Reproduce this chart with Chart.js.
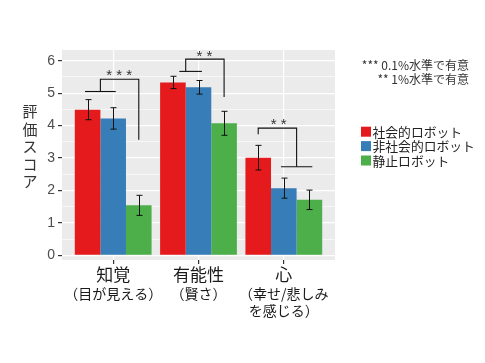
<!DOCTYPE html>
<html><head><meta charset="utf-8">
<script src="https://cdn.jsdelivr.net/npm/chart.js@4/dist/chart.umd.min.js"></script>
<style>html,body{margin:0;padding:0;background:#fff}</style>
</head><body>
<canvas id="c" width="485" height="363"></canvas>
<script>
const categories = ['知覚', '有能性', '心'];
const subLabels = [['（目が見える）'], ['（賢さ）'], ['（幸せ/悲しみ', 'を感じる）']];
const seriesNames = ['社会的ロボット', '非社会的ロボット', '静止ロボット'];
const socialMeans = [4.49, 5.33, 3.01];
const socialErrors = [0.31, 0.19, 0.38];
const nonSocialMeans = [4.22, 5.18, 2.07];
const nonSocialErrors = [0.33, 0.21, 0.31];
const staticMeans = [1.54, 4.07, 1.71];
const staticErrors = [0.31, 0.37, 0.30];
const yTicks = [0, 1, 2, 3, 4, 5, 6];
const yTitle = '評価スコア';
const noteLines = ['*** 0.1%水準で有意', '** 1%水準で有意'];
// significance brackets (data units: x = category position, y = score)
const bracketLines = [
  [[0.67, 5.05], [1.03, 5.05]],
  [[0.85, 5.05], [0.85, 5.43], [1.3, 5.43], [1.3, 3.56]],
  [[1.775, 5.67], [2.04, 5.67]],
  [[1.85, 5.67], [1.85, 6.05], [2.3, 6.05], [2.3, 4.88]],
  [[2.7, 3.73], [2.7, 3.92], [3.15, 3.92], [3.15, 2.73]],
  [[2.966, 2.73], [3.334, 2.73]]
];
const bracketLabels = [
  {text: '* * *', x: 1.07, y: 5.62},
  {text: '* *', x: 2.07, y: 6.2},
  {text: '* *', x: 2.94, y: 4.1}
];

const FONT = '"Liberation Sans", "Noto Sans CJK JP", sans-serif';
const JFONT = '"Noto Sans CJK JP", "Liberation Sans", sans-serif';
const colors = ['#E41A1C', '#377EB8', '#4DAF4A'];
const allMeans = [socialMeans, nonSocialMeans, staticMeans];
const allErrors = [socialErrors, nonSocialErrors, staticErrors];
const xPos = categories.map((c, i) => i + 1);

const datasets = allMeans.map((m, k) => ({
  label: seriesNames[k],
  data: m.map((v, i) => ({x: xPos[i], y: v})),
  errors: allErrors[k],
  backgroundColor: colors[k],
  borderWidth: 0,
  categoryPercentage: 0.9,
  barPercentage: 1.0,
  xAxisID: 'x'
}));

const yMinor = yTicks.slice(0, -1).map(v => v + 0.5);

const panelPlugin = {
  id: 'panel',
  beforeDraw(chart) {
    const {ctx, chartArea: a} = chart;
    ctx.save();
    ctx.fillStyle = '#EBEBEB';
    ctx.fillRect(a.left, a.top, a.right - a.left, a.bottom - a.top);
    ctx.restore();
  }
};

const annotPlugin = {
  id: 'annot',
  afterDatasetsDraw(chart) {
    const {ctx} = chart;
    const xs = chart.scales.x, ys = chart.scales.y;
    ctx.save();
    // error bars
    ctx.strokeStyle = '#111';
    ctx.lineWidth = 1;
    chart.data.datasets.forEach((ds, k) => {
      const meta = chart.getDatasetMeta(k);
      meta.data.forEach((bar, i) => {
        const v = ds.data[i].y, e = ds.errors[i];
        const x = Math.round(bar.x) + 0.5;
        const y1 = ys.getPixelForValue(v + e), y2 = ys.getPixelForValue(v - e);
        ctx.beginPath();
        ctx.moveTo(x, y1); ctx.lineTo(x, y2);
        ctx.moveTo(x - 3, y1); ctx.lineTo(x + 3, y1);
        ctx.moveTo(x - 3, y2); ctx.lineTo(x + 3, y2);
        ctx.stroke();
      });
    });
    // brackets
    ctx.strokeStyle = '#111';
    ctx.lineWidth = 1.1;
    bracketLines.forEach(line => {
      ctx.beginPath();
      line.forEach((p, j) => {
        const px = xs.getPixelForValue(p[0]), py = ys.getPixelForValue(p[1]);
        if (j === 0) ctx.moveTo(px, py); else ctx.lineTo(px, py);
      });
      ctx.stroke();
    });
    ctx.fillStyle = '#333';
    ctx.font = '15px ' + FONT;
    ctx.textAlign = 'center';
    ctx.textBaseline = 'middle';
    bracketLabels.forEach(l => {
      ctx.fillText(l.text, xs.getPixelForValue(l.x), ys.getPixelForValue(l.y) + 3);
    });
    ctx.restore();
  },
  afterDraw(chart) {
    const {ctx, chartArea: a} = chart;
    ctx.save();
    // y title, stacked upright characters
    ctx.fillStyle = '#333';
    ctx.font = '15px ' + JFONT;
    ctx.textAlign = 'center';
    ctx.textBaseline = 'middle';
    const chars = Array.from(yTitle);
    const step = 17.5;
    const cy = a.top + 96.7;
    chars.forEach((ch, i) => {
      ctx.fillText(ch, 30, cy + (i - (chars.length - 1) / 2) * step);
    });
    // note
    ctx.font = '12px ' + JFONT;
    ctx.textAlign = 'right';
    ctx.fillStyle = '#333';
    ctx.fillText(noteLines[0], 469, 65.7);
    ctx.fillText(noteLines[1], 469, 79.3);
    // legend
    ctx.textAlign = 'left';
    ctx.font = '12.8px ' + JFONT;
    chart.data.datasets.forEach((ds, k) => {
      const y = 131.7 + k * 14.4;
      ctx.fillStyle = ds.backgroundColor;
      ctx.fillRect(361, y - 5, 10, 10);
      ctx.fillStyle = '#222';
      ctx.fillText(ds.label, 372.5, y + 0.5);
    });
    ctx.restore();
  }
};

new Chart(document.getElementById('c'), {
  type: 'bar',
  data: {datasets},
  plugins: [panelPlugin, annotPlugin],
  options: {
    responsive: false,
    animation: false,
    layout: {padding: {left: 0, top: 50, right: 150, bottom: 20}},
    plugins: {legend: {display: false}, tooltip: {enabled: false}},
    scales: {
      x: {
        type: 'linear', min: 0.4, max: 3.6, offset: false, position: 'bottom', weight: 0,
        afterBuildTicks: s => { s.ticks = xPos.map(v => ({value: v})); },
        afterFit: s => { s.height = 23; },
        grid: {color: '#fff', lineWidth: 1.2, offset: false, tickColor: '#333', tickLength: 4},
        border: {display: false},
        ticks: {
          callback: v => categories[Math.round(v) - 1],
          font: {size: 17, family: JFONT}, color: '#1a1a1a', padding: 0,
          maxRotation: 0, autoSkip: false
        }
      },
      x2: {
        type: 'linear', min: 0.4, max: 3.6, offset: false, position: 'bottom', weight: 1,
        afterBuildTicks: s => { s.ticks = xPos.map(v => ({value: v})); },
        afterFit: s => { s.height = 60; },
        grid: {display: false, drawTicks: false},
        border: {display: false},
        ticks: {
          callback: v => subLabels[Math.round(v) - 1],
          font: {size: 14, family: JFONT, lineHeight: 1.2}, color: '#1a1a1a', padding: 2,
          maxRotation: 0, autoSkip: false
        }
      },
      y: {
        min: -0.145, max: 6.33,
        afterBuildTicks: s => { s.ticks = yTicks.concat(yMinor).sort((a, b) => a - b).map(v => ({value: v})); },
        afterFit: s => { s.width = 62; },
        grid: {
          color: '#fff',
          lineWidth: c => (c.tick && yTicks.includes(c.tick.value)) ? 1.2 : 0.6,
          tickColor: c => (c.tick && yTicks.includes(c.tick.value)) ? '#333' : 'rgba(0,0,0,0)',
          tickLength: 4
        },
        border: {display: false},
        ticks: {
          callback: v => yTicks.includes(v) ? String(v) : '',
          font: {size: 14, family: FONT}, color: '#4d4d4d', padding: 3, autoSkip: false
        }
      }
    }
  }
});
</script>
</body></html>
